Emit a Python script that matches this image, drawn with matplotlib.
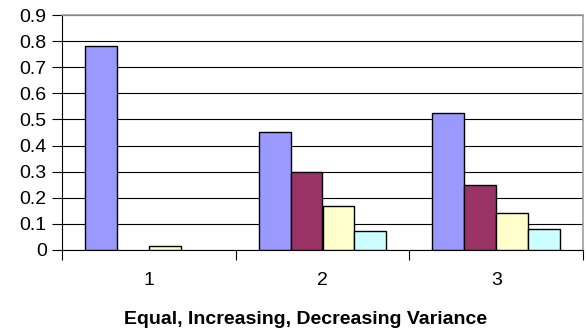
import matplotlib
matplotlib.use("Agg")
import matplotlib.pyplot as plt
import numpy as np

plt.rcParams['font.family'] = ['Liberation Sans', 'DejaVu Sans']

categories = ['1', '2', '3']
series_a = [0.782, 0.451, 0.524]
series_b = [0.0, 0.298, 0.250]
series_c = [0.015, 0.170, 0.141]
series_d = [0.0, 0.073, 0.079]
colors = ['#9999FF', '#993366', '#FFFFCC', '#CCFFFF']
y_ticks = [0, 0.1, 0.2, 0.3, 0.4, 0.5, 0.6, 0.7, 0.8, 0.9]
y_labels = ['0', '0.1', '0.2', '0.3', '0.4', '0.5', '0.6', '0.7', '0.8', '0.9']
x_title = 'Equal, Increasing, Decreasing Variance'

fig = plt.figure(figsize=(5.87, 3.30), dpi=100)
ax = fig.add_axes([62 / 587, 1 - 250 / 330, (583 - 62) / 587, (250 - 15) / 330])

x = np.arange(len(categories))
w = 0.184
for i, (vals, c) in enumerate(zip([series_a, series_b, series_c, series_d], colors)):
    bars = ax.bar(x + (i - 1.5) * w, vals, width=w, color=c, edgecolor='black',
                  linewidth=1.0, zorder=3)
    # empty bars leave no outline on the baseline
    for b, v in zip(bars, vals):
        if v == 0:
            b.set_linewidth(0)

ax.set_xlim(-0.5, 2.5)
ax.set_ylim(0, 0.9)
ax.set_yticks(y_ticks)
ax.set_yticklabels(y_labels, fontsize=14)
ax.yaxis.grid(True, color='black', linewidth=0.8, zorder=0)

ax.set_xticks(x)
ax.set_xticklabels(categories, fontsize=14)
ax.tick_params(axis='x', which='major', length=0, pad=16)
ax.set_xticks([-0.5, 0.5, 1.5, 2.5], minor=True)
ax.tick_params(axis='x', which='minor', length=7, width=0.8, direction='out')
ax.tick_params(axis='y', length=7, width=0.8, direction='out', pad=4)

for s in ['top', 'right']:
    ax.spines[s].set_color('#a0a0a0')
    ax.spines[s].set_linewidth(1.2)
ax.spines['left'].set_linewidth(0.8)
ax.spines['bottom'].set_linewidth(0.8)

fig.text(305.5 / 587, 1 - 320 / 330, x_title, fontsize=14, fontweight='bold',
         ha='center', va='center')

fig.savefig('out.png', dpi=100)
